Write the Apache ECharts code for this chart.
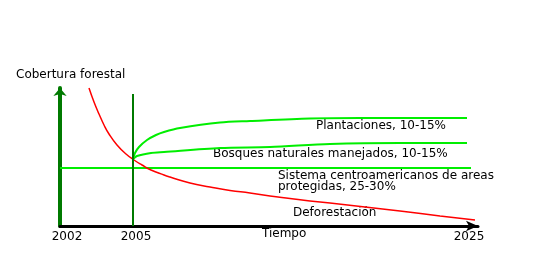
<!DOCTYPE html>
<html><head><meta charset="utf-8">
<script src="https://cdn.jsdelivr.net/npm/echarts@6/dist/echarts.min.js"></script>
<style>html,body{margin:0;padding:0;background:#fff}#c{width:552px;height:276px}</style>
</head><body><div id="c"></div>
<script>
// Abstract time units (x) and cover units (y)
const yearLabels = ['2002', '2005', '2025'];
const yearPositions = [7, 76, 409];
const marker2005 = 73;
const markerTop = 132;

const deforestacion = [[29,138],[34,124],[39,112],[44,101],[49,92],[57,81],[66,72],[74,66],[82,61],[91,56],[104,51],[110,49],[130,43],[150,39],[170,35.5],[190,33],[210,30],[230,27.5],[250,25],[270,23],[340,15],[380,10],[415,6]];
const plantaciones = [[73,67],[75,73],[79,79],[87,86],[96,91],[104,94],[120,98],[160,103.5],[190,105],[250,107.5],[300,108],[407,108]];
const bosques = [[73,67],[77,70],[91,73],[104,74],[160,78],[210,79],[270,82],[340,83],[407,83]];
const protegidas = [[0,58],[411,58]];

const FONT = 'DejaVu Sans';
const chart = echarts.init(document.getElementById('c'), null, {renderer:'canvas'});
function txt(x, y, s) {
  return {type:'text', left:x, top:y, style:{text:s, fill:'#000', font:'12px "' + FONT + '"'}};
}
chart.setOption({
  animation:false,
  backgroundColor:'#fff',
  grid:{left:60, top:88, width:418, height:138},
  xAxis:{type:'value', min:0, max:418,
    axisLine:{show:true, lineStyle:{color:'#000', width:3}, symbol:['none','arrow'], symbolSize:[8,12]},
    axisTick:{show:false}, splitLine:{show:false},
    axisLabel:{customValues:yearPositions, margin:5, color:'#000', fontFamily:FONT, fontSize:12,
      formatter:function(v){const i=yearPositions.indexOf(v);return i>=0?yearLabels[i]:'';}}
  },
  yAxis:{type:'value', min:0, max:138,
    axisLine:{show:true, lineStyle:{color:'#007a00', width:4}, symbol:['none','arrow'], symbolSize:[10,8]},
    axisTick:{show:false}, axisLabel:{show:false}, splitLine:{show:false}
  },
  series:[
    {type:'line', data:protegidas, symbol:'none', lineStyle:{color:'#00ee00', width:2}},
    {type:'line', data:deforestacion, symbol:'none', smooth:0.5, lineStyle:{color:'#ff0000', width:1.5}, z:3,
      markLine:{silent:true, symbol:'none', label:{show:false}, lineStyle:{color:'#007a00', width:2, type:'solid'},
        data:[[{coord:[marker2005,0]},{coord:[marker2005,markerTop]}]]}},
    {type:'line', data:plantaciones, symbol:'none', smooth:0.3, lineStyle:{color:'#00ee00', width:2}},
    {type:'line', data:bosques, symbol:'none', smooth:0.3, lineStyle:{color:'#00ee00', width:2}}
  ],
  graphic:[
    txt(16, 69, 'Cobertura forestal'),
    txt(316, 120, 'Plantaciones, 10-15%'),
    txt(213, 148, 'Bosques naturales manejados, 10-15%'),
    txt(278, 170, 'Sistema centroamericanos de areas'),
    txt(278, 181, 'protegidas, 25-30%'),
    txt(293, 207, 'Deforestación'),
    txt(262, 228, 'Tiempo')
  ]
});
</script></body></html>
